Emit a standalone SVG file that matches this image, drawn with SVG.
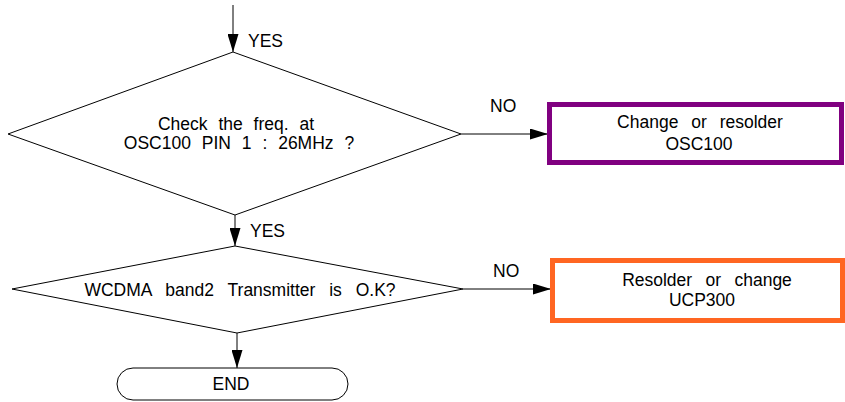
<svg xmlns="http://www.w3.org/2000/svg" width="845" height="402" viewBox="0 0 845 402">
<defs>
<style>
text{font-family:"Liberation Sans",Arial,sans-serif;font-size:17.5px;fill:#000}
.c{text-anchor:middle}
.shape{fill:#fff;stroke:#000;stroke-width:1}
.line{fill:none;stroke:#000;stroke-width:1}
</style>
<marker id="ah" markerUnits="userSpaceOnUse" markerWidth="18" markerHeight="11" refX="18" refY="5.5" orient="auto">
<path d="M0,0 L18,5.5 L0,11 z" fill="#000"/>
</marker>
</defs>
<rect width="845" height="402" fill="#fff"/>
<g id="connectors">
<line class="line" x1="233" y1="5" x2="233" y2="52" marker-end="url(#ah)"/>
<line class="line" x1="235" y1="215" x2="235" y2="246" marker-end="url(#ah)"/>
<line class="line" x1="461" y1="134" x2="548" y2="134" marker-end="url(#ah)"/>
<line class="line" x1="463" y1="289" x2="551" y2="289" marker-end="url(#ah)"/>
<line class="line" x1="237" y1="333" x2="237" y2="368" marker-end="url(#ah)"/>
<text x="248" y="47">YES</text>
<text x="250" y="237">YES</text>
<text x="490" y="112">NO</text>
<text x="493" y="277">NO</text>
</g>
<g id="decision1">
<polygon class="shape" points="233,52 461,134 235,215 8,134"/>
<text class="c" x="236" y="130" style="word-spacing:6px">Check the freq. at</text>
<text class="c" x="239" y="149" style="word-spacing:6px">OSC100 PIN 1 : 26MHz ?</text>
</g>
<g id="box1">
<rect x="549.5" y="104.5" width="292" height="58" fill="#fff" stroke="#800080" stroke-width="5"/>
<text class="c" x="700" y="128" style="word-spacing:8px">Change or resolder</text>
<text class="c" x="699" y="150">OSC100</text>
</g>
<g id="decision2">
<polygon class="shape" points="235,246 463,289 237,333 12,289"/>
<text class="c" x="240" y="296" style="word-spacing:9px">WCDMA band2 Transmitter is O.K?</text>
</g>
<g id="box2">
<rect x="552.5" y="260.5" width="290" height="60" fill="#fff" stroke="#FF6622" stroke-width="5"/>
<text class="c" x="707" y="286" style="word-spacing:8.5px">Resolder or change</text>
<text class="c" x="702" y="306">UCP300</text>
</g>
<g id="end">
<rect class="shape" x="117" y="368" width="231" height="32" rx="16" ry="16"/>
<text class="c" x="231" y="390">END</text>
</g>
</svg>
